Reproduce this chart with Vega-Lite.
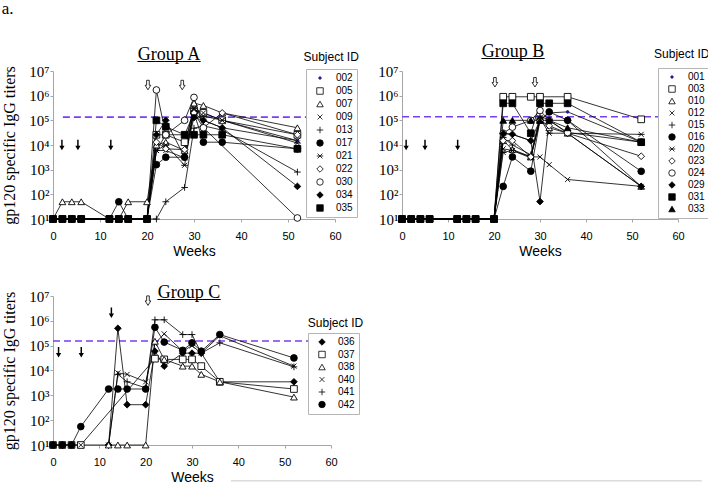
{
"$schema":"https://vega.github.io/schema/vega-lite/v6.json",
"padding":{"left":1,"top":0,"right":0,"bottom":0},
"title":{"text":"a.","anchor":"start","font":"Liberation Serif","fontSize":17,"fontWeight":"normal","offset":25,"frame":"bounds"},
"config":{
 "view":{"stroke":null},
 "axisX":{"labelFont":"Liberation Sans","labelFontSize":11,"titleFont":"Liberation Sans","titleFontSize":14,"titleFontWeight":"normal","tickSize":3,"labelPadding":8,"titlePadding":3,"domainColor":"#a6a6a6","tickColor":"#a6a6a6","grid":false,"labelColor":"black","titleColor":"black","labelFlush":false,"labelOverlap":false},
 "axisY":{"labelFont":"Liberation Serif","labelFontSize":15,"titleFont":"Liberation Serif","titleFontSize":16,"titleFontWeight":"normal","tickSize":3,"labelPadding":1,"titlePadding":11,"domainColor":"#a6a6a6","tickColor":"#a6a6a6","grid":false,"labelColor":"black","titleColor":"black","labelFlush":false,"labelOverlap":false},
 "legend":{"orient":"none","title":null,"strokeColor":"#b5b5b5","fillColor":"white","padding":4,"labelFont":"Liberation Sans","labelFontSize":10,"labelColor":"black","labelOffset":11,"symbolOffset":5,"symbolSize":42,"symbolStrokeWidth":0.8,"symbolOpacity":1}
},
"datasets":{
"arr":[
{"g":"A","w":1.9,"v":10000,"t":"solid"},{"g":"A","w":5.3,"v":10000,"t":"solid"},{"g":"A","w":12.3,"v":10000,"t":"solid"},{"g":"A","w":20.2,"v":2700000,"t":"open"},{"g":"A","w":27.5,"v":2700000,"t":"open"},
{"g":"B","w":0.9,"v":10000,"t":"solid"},{"g":"B","w":5,"v":10000,"t":"solid"},{"g":"B","w":12.1,"v":10000,"t":"solid"},{"g":"B","w":20.2,"v":3500000,"t":"open"},{"g":"B","w":28.9,"v":3500000,"t":"open"},
{"g":"C","w":1.2,"v":54000,"t":"solid"},{"g":"C","w":6.1,"v":54000,"t":"solid"},{"g":"C","w":12.6,"v":2100000,"t":"solid"},{"g":"C","w":20.5,"v":6500000,"t":"open"}
],
"s":[
{"g":"A","s":"002","w":0,"v":10},{"g":"A","s":"002","w":2,"v":10},{"g":"A","s":"002","w":4,"v":10},{"g":"A","s":"002","w":6,"v":10},{"g":"A","s":"002","w":12,"v":10},{"g":"A","s":"002","w":14,"v":10},{"g":"A","s":"002","w":16,"v":10},{"g":"A","s":"002","w":20,"v":10},{"g":"A","s":"002","w":22,"v":6000},{"g":"A","s":"002","w":24,"v":26000},{"g":"A","s":"002","w":28,"v":26000},{"g":"A","s":"002","w":30,"v":200000},{"g":"A","s":"002","w":32,"v":100000},{"g":"A","s":"002","w":36,"v":50000},{"g":"A","s":"002","w":52,"v":15000},
{"g":"A","s":"005","w":0,"v":10},{"g":"A","s":"005","w":2,"v":10},{"g":"A","s":"005","w":4,"v":10},{"g":"A","s":"005","w":6,"v":10},{"g":"A","s":"005","w":12,"v":10},{"g":"A","s":"005","w":14,"v":10},{"g":"A","s":"005","w":16,"v":10},{"g":"A","s":"005","w":20,"v":10},{"g":"A","s":"005","w":22,"v":26000},{"g":"A","s":"005","w":24,"v":26000},{"g":"A","s":"005","w":28,"v":13000},{"g":"A","s":"005","w":30,"v":250000},{"g":"A","s":"005","w":32,"v":200000},{"g":"A","s":"005","w":36,"v":100000},{"g":"A","s":"005","w":52,"v":26000},
{"g":"A","s":"007","w":0,"v":10},{"g":"A","s":"007","w":2,"v":50},{"g":"A","s":"007","w":4,"v":50},{"g":"A","s":"007","w":6,"v":50},{"g":"A","s":"007","w":12,"v":10},{"g":"A","s":"007","w":14,"v":10},{"g":"A","s":"007","w":16,"v":50},{"g":"A","s":"007","w":20,"v":50},{"g":"A","s":"007","w":22,"v":10000},{"g":"A","s":"007","w":24,"v":13000},{"g":"A","s":"007","w":28,"v":6000},{"g":"A","s":"007","w":30,"v":500000},{"g":"A","s":"007","w":32,"v":400000},{"g":"A","s":"007","w":36,"v":200000},{"g":"A","s":"007","w":52,"v":50000},
{"g":"A","s":"009","w":0,"v":10},{"g":"A","s":"009","w":2,"v":10},{"g":"A","s":"009","w":4,"v":10},{"g":"A","s":"009","w":6,"v":10},{"g":"A","s":"009","w":12,"v":10},{"g":"A","s":"009","w":14,"v":10},{"g":"A","s":"009","w":16,"v":10},{"g":"A","s":"009","w":20,"v":10},{"g":"A","s":"009","w":22,"v":6000},{"g":"A","s":"009","w":24,"v":6000},{"g":"A","s":"009","w":28,"v":3000},{"g":"A","s":"009","w":30,"v":300000},{"g":"A","s":"009","w":32,"v":200000},{"g":"A","s":"009","w":36,"v":100000},{"g":"A","s":"009","w":52,"v":15000},
{"g":"A","s":"013","w":0,"v":10},{"g":"A","s":"013","w":2,"v":10},{"g":"A","s":"013","w":4,"v":10},{"g":"A","s":"013","w":6,"v":10},{"g":"A","s":"013","w":12,"v":10},{"g":"A","s":"013","w":14,"v":10},{"g":"A","s":"013","w":16,"v":10},{"g":"A","s":"013","w":20,"v":10},{"g":"A","s":"013","w":22,"v":10},{"g":"A","s":"013","w":24,"v":50},{"g":"A","s":"013","w":28,"v":190},{"g":"A","s":"013","w":30,"v":48000},{"g":"A","s":"013","w":32,"v":60000},{"g":"A","s":"013","w":36,"v":40000},{"g":"A","s":"013","w":52,"v":800},
{"g":"A","s":"017","w":0,"v":10},{"g":"A","s":"017","w":2,"v":10},{"g":"A","s":"017","w":4,"v":10},{"g":"A","s":"017","w":6,"v":10},{"g":"A","s":"017","w":12,"v":10},{"g":"A","s":"017","w":14,"v":50},{"g":"A","s":"017","w":16,"v":10},{"g":"A","s":"017","w":20,"v":10},{"g":"A","s":"017","w":22,"v":1600},{"g":"A","s":"017","w":24,"v":3200},{"g":"A","s":"017","w":28,"v":3200},{"g":"A","s":"017","w":30,"v":200000},{"g":"A","s":"017","w":32,"v":13000},{"g":"A","s":"017","w":36,"v":13000},{"g":"A","s":"017","w":52,"v":7000},
{"g":"A","s":"021","w":0,"v":10},{"g":"A","s":"021","w":2,"v":10},{"g":"A","s":"021","w":4,"v":10},{"g":"A","s":"021","w":6,"v":10},{"g":"A","s":"021","w":12,"v":10},{"g":"A","s":"021","w":14,"v":10},{"g":"A","s":"021","w":16,"v":10},{"g":"A","s":"021","w":20,"v":10},{"g":"A","s":"021","w":22,"v":6000},{"g":"A","s":"021","w":24,"v":10000},{"g":"A","s":"021","w":28,"v":1500},{"g":"A","s":"021","w":30,"v":300000},{"g":"A","s":"021","w":32,"v":150000},{"g":"A","s":"021","w":36,"v":100000},{"g":"A","s":"021","w":52,"v":12000},
{"g":"A","s":"022","w":0,"v":10},{"g":"A","s":"022","w":2,"v":10},{"g":"A","s":"022","w":4,"v":10},{"g":"A","s":"022","w":6,"v":10},{"g":"A","s":"022","w":12,"v":10},{"g":"A","s":"022","w":14,"v":10},{"g":"A","s":"022","w":16,"v":10},{"g":"A","s":"022","w":20,"v":10},{"g":"A","s":"022","w":22,"v":13000},{"g":"A","s":"022","w":24,"v":7000},{"g":"A","s":"022","w":28,"v":6500},{"g":"A","s":"022","w":30,"v":200000},{"g":"A","s":"022","w":32,"v":50000},{"g":"A","s":"022","w":36,"v":200000},{"g":"A","s":"022","w":52,"v":26000},
{"g":"A","s":"030","w":0,"v":10},{"g":"A","s":"030","w":2,"v":10},{"g":"A","s":"030","w":4,"v":10},{"g":"A","s":"030","w":6,"v":10},{"g":"A","s":"030","w":12,"v":10},{"g":"A","s":"030","w":14,"v":10},{"g":"A","s":"030","w":16,"v":10},{"g":"A","s":"030","w":20,"v":10},{"g":"A","s":"030","w":22,"v":1700000},{"g":"A","s":"030","w":24,"v":26000},{"g":"A","s":"030","w":28,"v":100000},{"g":"A","s":"030","w":30,"v":850000},{"g":"A","s":"030","w":32,"v":50000},{"g":"A","s":"030","w":52,"v":11},
{"g":"A","s":"034","w":0,"v":10},{"g":"A","s":"034","w":2,"v":10},{"g":"A","s":"034","w":4,"v":10},{"g":"A","s":"034","w":6,"v":10},{"g":"A","s":"034","w":12,"v":10},{"g":"A","s":"034","w":14,"v":10},{"g":"A","s":"034","w":16,"v":10},{"g":"A","s":"034","w":20,"v":10},{"g":"A","s":"034","w":22,"v":26000},{"g":"A","s":"034","w":24,"v":100000},{"g":"A","s":"034","w":28,"v":3200},{"g":"A","s":"034","w":30,"v":130000},{"g":"A","s":"034","w":32,"v":100000},{"g":"A","s":"034","w":36,"v":50000},{"g":"A","s":"034","w":52,"v":210},
{"g":"A","s":"035","w":0,"v":10},{"g":"A","s":"035","w":2,"v":10},{"g":"A","s":"035","w":4,"v":10},{"g":"A","s":"035","w":6,"v":10},{"g":"A","s":"035","w":12,"v":10},{"g":"A","s":"035","w":14,"v":10},{"g":"A","s":"035","w":16,"v":10},{"g":"A","s":"035","w":20,"v":10},{"g":"A","s":"035","w":22,"v":100000},{"g":"A","s":"035","w":24,"v":55000},{"g":"A","s":"035","w":28,"v":26000},{"g":"A","s":"035","w":30,"v":26000},{"g":"A","s":"035","w":32,"v":26000},{"g":"A","s":"035","w":36,"v":26000},{"g":"A","s":"035","w":52,"v":7000},

{"g":"B","s":"001","w":0,"v":10},{"g":"B","s":"001","w":2,"v":10},{"g":"B","s":"001","w":4,"v":10},{"g":"B","s":"001","w":6,"v":10},{"g":"B","s":"001","w":12,"v":10},{"g":"B","s":"001","w":14,"v":10},{"g":"B","s":"001","w":16,"v":10},{"g":"B","s":"001","w":20,"v":10},{"g":"B","s":"001","w":22,"v":30000},{"g":"B","s":"001","w":24,"v":27000},{"g":"B","s":"001","w":28,"v":15000},{"g":"B","s":"001","w":30,"v":100000},{"g":"B","s":"001","w":32,"v":200000},{"g":"B","s":"001","w":36,"v":220000},{"g":"B","s":"001","w":52,"v":13000},
{"g":"B","s":"003","w":0,"v":10},{"g":"B","s":"003","w":2,"v":10},{"g":"B","s":"003","w":4,"v":10},{"g":"B","s":"003","w":6,"v":10},{"g":"B","s":"003","w":12,"v":10},{"g":"B","s":"003","w":14,"v":10},{"g":"B","s":"003","w":16,"v":10},{"g":"B","s":"003","w":20,"v":10},{"g":"B","s":"003","w":22,"v":900000},{"g":"B","s":"003","w":24,"v":900000},{"g":"B","s":"003","w":28,"v":900000},{"g":"B","s":"003","w":30,"v":900000},{"g":"B","s":"003","w":36,"v":900000},{"g":"B","s":"003","w":52,"v":110000},
{"g":"B","s":"010","w":0,"v":10},{"g":"B","s":"010","w":2,"v":10},{"g":"B","s":"010","w":4,"v":10},{"g":"B","s":"010","w":6,"v":10},{"g":"B","s":"010","w":12,"v":10},{"g":"B","s":"010","w":14,"v":10},{"g":"B","s":"010","w":16,"v":10},{"g":"B","s":"010","w":20,"v":10},{"g":"B","s":"010","w":22,"v":15000},{"g":"B","s":"010","w":24,"v":6600},{"g":"B","s":"010","w":28,"v":3300},{"g":"B","s":"010","w":30,"v":100000},{"g":"B","s":"010","w":32,"v":50000},{"g":"B","s":"010","w":36,"v":30000},{"g":"B","s":"010","w":52,"v":210},
{"g":"B","s":"012","w":0,"v":10},{"g":"B","s":"012","w":2,"v":10},{"g":"B","s":"012","w":4,"v":10},{"g":"B","s":"012","w":6,"v":10},{"g":"B","s":"012","w":12,"v":10},{"g":"B","s":"012","w":14,"v":10},{"g":"B","s":"012","w":16,"v":10},{"g":"B","s":"012","w":20,"v":10},{"g":"B","s":"012","w":22,"v":7000},{"g":"B","s":"012","w":24,"v":6000},{"g":"B","s":"012","w":28,"v":3300},{"g":"B","s":"012","w":30,"v":3300},{"g":"B","s":"012","w":32,"v":1600},{"g":"B","s":"012","w":36,"v":400},{"g":"B","s":"012","w":52,"v":210},
{"g":"B","s":"015","w":0,"v":10},{"g":"B","s":"015","w":2,"v":10},{"g":"B","s":"015","w":4,"v":10},{"g":"B","s":"015","w":6,"v":10},{"g":"B","s":"015","w":12,"v":10},{"g":"B","s":"015","w":14,"v":10},{"g":"B","s":"015","w":16,"v":10},{"g":"B","s":"015","w":20,"v":10},{"g":"B","s":"015","w":22,"v":20000},{"g":"B","s":"015","w":24,"v":10000},{"g":"B","s":"015","w":28,"v":4000},{"g":"B","s":"015","w":30,"v":150000},{"g":"B","s":"015","w":32,"v":100000},{"g":"B","s":"015","w":36,"v":30000},{"g":"B","s":"015","w":52,"v":210},
{"g":"B","s":"016","w":0,"v":10},{"g":"B","s":"016","w":2,"v":10},{"g":"B","s":"016","w":4,"v":10},{"g":"B","s":"016","w":6,"v":10},{"g":"B","s":"016","w":12,"v":10},{"g":"B","s":"016","w":14,"v":10},{"g":"B","s":"016","w":16,"v":10},{"g":"B","s":"016","w":20,"v":10},{"g":"B","s":"016","w":22,"v":210},{"g":"B","s":"016","w":24,"v":3300},{"g":"B","s":"016","w":28,"v":870},{"g":"B","s":"016","w":30,"v":100000},{"g":"B","s":"016","w":32,"v":220000},{"g":"B","s":"016","w":36,"v":100000},{"g":"B","s":"016","w":52,"v":860},
{"g":"B","s":"020","w":0,"v":10},{"g":"B","s":"020","w":2,"v":10},{"g":"B","s":"020","w":4,"v":10},{"g":"B","s":"020","w":6,"v":10},{"g":"B","s":"020","w":12,"v":10},{"g":"B","s":"020","w":14,"v":10},{"g":"B","s":"020","w":16,"v":10},{"g":"B","s":"020","w":20,"v":10},{"g":"B","s":"020","w":22,"v":5000},{"g":"B","s":"020","w":24,"v":6000},{"g":"B","s":"020","w":28,"v":3000},{"g":"B","s":"020","w":30,"v":120000},{"g":"B","s":"020","w":32,"v":30000},{"g":"B","s":"020","w":36,"v":30000},{"g":"B","s":"020","w":52,"v":27000},
{"g":"B","s":"023","w":0,"v":10},{"g":"B","s":"023","w":2,"v":10},{"g":"B","s":"023","w":4,"v":10},{"g":"B","s":"023","w":6,"v":10},{"g":"B","s":"023","w":12,"v":10},{"g":"B","s":"023","w":14,"v":10},{"g":"B","s":"023","w":16,"v":10},{"g":"B","s":"023","w":20,"v":10},{"g":"B","s":"023","w":22,"v":15000},{"g":"B","s":"023","w":24,"v":15000},{"g":"B","s":"023","w":28,"v":3300},{"g":"B","s":"023","w":30,"v":100000},{"g":"B","s":"023","w":32,"v":60000},{"g":"B","s":"023","w":36,"v":30000},{"g":"B","s":"023","w":52,"v":3500},
{"g":"B","s":"024","w":0,"v":10},{"g":"B","s":"024","w":2,"v":10},{"g":"B","s":"024","w":4,"v":10},{"g":"B","s":"024","w":6,"v":10},{"g":"B","s":"024","w":12,"v":10},{"g":"B","s":"024","w":14,"v":10},{"g":"B","s":"024","w":16,"v":10},{"g":"B","s":"024","w":20,"v":10},{"g":"B","s":"024","w":22,"v":30000},{"g":"B","s":"024","w":24,"v":53000},{"g":"B","s":"024","w":28,"v":100000},{"g":"B","s":"024","w":30,"v":250000},{"g":"B","s":"024","w":32,"v":100000},{"g":"B","s":"024","w":36,"v":32000},{"g":"B","s":"024","w":52,"v":13000},
{"g":"B","s":"029","w":0,"v":10},{"g":"B","s":"029","w":2,"v":10},{"g":"B","s":"029","w":4,"v":10},{"g":"B","s":"029","w":6,"v":10},{"g":"B","s":"029","w":12,"v":10},{"g":"B","s":"029","w":14,"v":10},{"g":"B","s":"029","w":16,"v":10},{"g":"B","s":"029","w":20,"v":10},{"g":"B","s":"029","w":22,"v":29000},{"g":"B","s":"029","w":24,"v":27000},{"g":"B","s":"029","w":28,"v":15000},{"g":"B","s":"029","w":30,"v":51},{"g":"B","s":"029","w":32,"v":100000},{"g":"B","s":"029","w":36,"v":100000},{"g":"B","s":"029","w":52,"v":210},
{"g":"B","s":"033","w":0,"v":10},{"g":"B","s":"033","w":2,"v":10},{"g":"B","s":"033","w":4,"v":10},{"g":"B","s":"033","w":6,"v":10},{"g":"B","s":"033","w":12,"v":10},{"g":"B","s":"033","w":14,"v":10},{"g":"B","s":"033","w":16,"v":10},{"g":"B","s":"033","w":20,"v":10},{"g":"B","s":"033","w":22,"v":100000},{"g":"B","s":"033","w":24,"v":100000},{"g":"B","s":"033","w":28,"v":100000},{"g":"B","s":"033","w":30,"v":100000},{"g":"B","s":"033","w":32,"v":100000},{"g":"B","s":"033","w":36,"v":50000},{"g":"B","s":"033","w":52,"v":13000},
{"g":"B","s":"031","w":0,"v":10},{"g":"B","s":"031","w":2,"v":10},{"g":"B","s":"031","w":4,"v":10},{"g":"B","s":"031","w":6,"v":10},{"g":"B","s":"031","w":12,"v":10},{"g":"B","s":"031","w":14,"v":10},{"g":"B","s":"031","w":16,"v":10},{"g":"B","s":"031","w":20,"v":10},{"g":"B","s":"031","w":22,"v":490000},{"g":"B","s":"031","w":24,"v":490000},{"g":"B","s":"031","w":28,"v":30000},{"g":"B","s":"031","w":30,"v":490000},{"g":"B","s":"031","w":32,"v":490000},{"g":"B","s":"031","w":36,"v":490000},{"g":"B","s":"031","w":52,"v":13000},

{"g":"C","s":"036","w":12,"v":10},{"g":"C","s":"036","w":14,"v":500000},{"g":"C","s":"036","w":16,"v":420},{"g":"C","s":"036","w":20,"v":420},{"g":"C","s":"036","w":22,"v":60000},{"g":"C","s":"036","w":24,"v":15000},{"g":"C","s":"036","w":28,"v":50000},{"g":"C","s":"036","w":30,"v":50000},{"g":"C","s":"036","w":32,"v":50000},{"g":"C","s":"036","w":36,"v":3500},{"g":"C","s":"036","w":52,"v":3500},
{"g":"C","s":"041","w":12,"v":10},{"g":"C","s":"041","w":14,"v":7000},{"g":"C","s":"041","w":16,"v":3500},{"g":"C","s":"041","w":20,"v":2000},{"g":"C","s":"041","w":22,"v":1100000},{"g":"C","s":"041","w":24,"v":1100000},{"g":"C","s":"041","w":28,"v":280000},{"g":"C","s":"041","w":30,"v":280000},{"g":"C","s":"041","w":32,"v":50000},{"g":"C","s":"041","w":36,"v":130000},{"g":"C","s":"041","w":52,"v":14000},
{"g":"C","s":"037","w":0,"v":10},{"g":"C","s":"037","w":2,"v":10},{"g":"C","s":"037","w":4,"v":10},{"g":"C","s":"037","w":6,"v":10},{"g":"C","s":"037","w":22,"v":30000},{"g":"C","s":"037","w":24,"v":28000},{"g":"C","s":"037","w":28,"v":28000},{"g":"C","s":"037","w":30,"v":28000},{"g":"C","s":"037","w":32,"v":15000},{"g":"C","s":"037","w":36,"v":3500},{"g":"C","s":"037","w":52,"v":1800},
{"g":"C","s":"040","w":0,"v":10},{"g":"C","s":"040","w":2,"v":10},{"g":"C","s":"040","w":4,"v":10},{"g":"C","s":"040","w":6,"v":10},{"g":"C","s":"040","w":12,"v":10},{"g":"C","s":"040","w":14,"v":8000},{"g":"C","s":"040","w":16,"v":7000},{"g":"C","s":"040","w":20,"v":3500},{"g":"C","s":"040","w":22,"v":120000},{"g":"C","s":"040","w":24,"v":300000},{"g":"C","s":"040","w":28,"v":60000},{"g":"C","s":"040","w":30,"v":100000},{"g":"C","s":"040","w":32,"v":50000},{"g":"C","s":"040","w":36,"v":250000},{"g":"C","s":"040","w":52,"v":15000},
{"g":"C","s":"038","w":12,"v":10},{"g":"C","s":"038","w":14,"v":10},{"g":"C","s":"038","w":16,"v":10},{"g":"C","s":"038","w":20,"v":10},{"g":"C","s":"038","w":22,"v":150000},{"g":"C","s":"038","w":24,"v":28000},{"g":"C","s":"038","w":28,"v":15000},{"g":"C","s":"038","w":30,"v":15000},{"g":"C","s":"038","w":32,"v":7000},{"g":"C","s":"038","w":36,"v":3500},{"g":"C","s":"038","w":52,"v":850},
{"g":"C","s":"042","w":0,"v":10},{"g":"C","s":"042","w":2,"v":10},{"g":"C","s":"042","w":4,"v":10},{"g":"C","s":"042","w":6,"v":55},{"g":"C","s":"042","w":12,"v":1800},{"g":"C","s":"042","w":14,"v":1800},{"g":"C","s":"042","w":16,"v":1800},{"g":"C","s":"042","w":20,"v":1800},{"g":"C","s":"042","w":22,"v":550000},{"g":"C","s":"042","w":24,"v":140000},{"g":"C","s":"042","w":28,"v":65000},{"g":"C","s":"042","w":30,"v":130000},{"g":"C","s":"042","w":32,"v":60000},{"g":"C","s":"042","w":36,"v":280000},{"g":"C","s":"042","w":52,"v":32000}
]
},
"columns":2,
"bounds":"flush",
"spacing":{"row":77,"column":67},
"resolve":{"scale":{"x":"independent","y":"independent","shape":"independent","fill":"independent","stroke":"independent"}},
"concat":[
{
 "width":282,"height":148,
 "title":{"text":"Group A","subtitle":"_______","font":"Liberation Serif","fontSize":18,"fontWeight":"normal","subtitleFont":"Liberation Serif","subtitleFontSize":18,"subtitlePadding":-18,"offset":-13,"dx":-25,"anchor":"middle","frame":"group"},
 "layer":[
  {"data":{"values":[{}]},"mark":{"type":"rule","color":"#7a3ff0","strokeWidth":1.6,"strokeDash":[7,4]},
   "encoding":{"x":{"datum":2.1,"type":"quantitative","scale":{"domain":[0,60],"nice":false}},"x2":{"datum":54.3},"y":{"datum":135000,"type":"quantitative","scale":{"type":"log","domain":[10,10000000]}}}},
  {"data":{"name":"s"},"transform":[{"filter":"datum.g=='A'"}],"mark":{"type":"line","stroke":"black","strokeWidth":0.8},
   "encoding":{"x":{"field":"w","type":"quantitative","scale":{"domain":[0,60],"nice":false},"axis":{"values":[0,10,20,30,40,50,60],"title":"Weeks"}},
    "y":{"field":"v","type":"quantitative","scale":{"type":"log","domain":[10,10000000]},"axis":{"values":[10,100,1000,10000,100000,1000000,10000000],"labelExpr":"'10' + ['⁰','¹','²','³','⁴','⁵','⁶','⁷'][round(log(datum.value)/LN10)]","title":"gp120 specific IgG titers"}},
    "detail":{"field":"s"}}},
  {"data":{"name":"s"},"transform":[{"filter":"datum.g=='A'"}],"mark":{"type":"point","strokeWidth":0.9,"opacity":1,"size":45},
   "encoding":{"x":{"field":"w","type":"quantitative"},"y":{"field":"v","type":"quantitative"},
    "shape":{"field":"s","type":"nominal","scale":{"domain":["002","005","007","009","013","017","021","022","030","034","035"],"range":["M-0.4,0A0.4,0.4 0 1,0 0.4,0A0.4,0.4 0 1,0 -0.4,0Z","square","triangle-up","M-0.75,-0.75L0.75,0.75M-0.75,0.75L0.75,-0.75","M-1,0L1,0M0,-1L0,1","circle","M-1,0L1,0M-0.75,-0.75L0.75,0.75M-0.75,0.75L0.75,-0.75","diamond","circle","diamond","square"]},
     "legend":{"legendX":253,"legendY":-2,"rowPadding":3}},
    "fill":{"field":"s","type":"nominal","legend":null,"scale":{"domain":["002","005","007","009","013","017","021","022","030","034","035"],"range":["#1f1f8f","white","white","white","white","black","white","white","white","black","black"]}},
    "stroke":{"field":"s","type":"nominal","legend":null,"scale":{"domain":["002","005","007","009","013","017","021","022","030","034","035"],"range":["#1f1f8f","black","black","black","black","black","black","black","black","black","black"]}}}},
  {"data":{"name":"arr"},"transform":[{"filter":"datum.g=='A' && datum.t=='solid'"}],"mark":{"type":"point","shape":"M-0.14,-1L0.14,-1L0.14,0.15L0.5,0.15L0,1L-0.5,0.15L-0.14,0.15Z","size":110,"filled":true,"color":"black","opacity":1},
   "encoding":{"x":{"field":"w","type":"quantitative"},"y":{"field":"v","type":"quantitative"}}},
  {"data":{"name":"arr"},"transform":[{"filter":"datum.g=='A' && datum.t=='open'"}],"mark":{"type":"point","shape":"M-0.28,-1L0.28,-1L0.28,0.05L0.6,0.05L0,1L-0.6,0.05L-0.28,0.05Z","size":90,"filled":true,"fill":"white","stroke":"black","strokeWidth":0.8,"opacity":1},
   "encoding":{"x":{"field":"w","type":"quantitative"},"y":{"field":"v","type":"quantitative"}}},
  {"data":{"values":[{}]},"mark":{"type":"text","font":"Liberation Sans","fontSize":12,"align":"left","baseline":"middle","color":"black"},
   "encoding":{"x":{"datum":53.3,"type":"quantitative"},"y":{"datum":37000000,"type":"quantitative"},"text":{"value":"Subject ID"}}}
 ]
},
{
 "width":276,"height":148,
 "title":{"text":"Group B","subtitle":"_______","font":"Liberation Serif","fontSize":18,"fontWeight":"normal","subtitleFont":"Liberation Serif","subtitleFontSize":18,"subtitlePadding":-18,"offset":-13,"dx":-27,"anchor":"middle","frame":"group"},
 "layer":[
  {"data":{"values":[{}]},"mark":{"type":"rule","color":"#7a3ff0","strokeWidth":1.6,"strokeDash":[7,4]},
   "encoding":{"x":{"datum":0,"type":"quantitative","scale":{"domain":[0,60],"nice":false}},"x2":{"datum":56.7},"y":{"datum":140000,"type":"quantitative","scale":{"type":"log","domain":[10,10000000]}}}},
  {"data":{"name":"s"},"transform":[{"filter":"datum.g=='B'"}],"mark":{"type":"line","stroke":"black","strokeWidth":0.8},
   "encoding":{"x":{"field":"w","type":"quantitative","scale":{"domain":[0,60],"nice":false},"axis":{"values":[0,10,20,30,40,50,60],"title":"Weeks"}},
    "y":{"field":"v","type":"quantitative","scale":{"type":"log","domain":[10,10000000]},"axis":{"values":[10,100,1000,10000,100000,1000000,10000000],"labelExpr":"'10' + ['⁰','¹','²','³','⁴','⁵','⁶','⁷'][round(log(datum.value)/LN10)]","title":null}},
    "detail":{"field":"s"}}},
  {"data":{"name":"s"},"transform":[{"filter":"datum.g=='B'"}],"mark":{"type":"point","strokeWidth":0.9,"opacity":1,"size":45},
   "encoding":{"x":{"field":"w","type":"quantitative"},"y":{"field":"v","type":"quantitative"},
    "shape":{"field":"s","type":"nominal","scale":{"domain":["001","003","010","012","015","016","020","023","024","029","031","033"],"range":["M-0.4,0A0.4,0.4 0 1,0 0.4,0A0.4,0.4 0 1,0 -0.4,0Z","square","triangle-up","M-0.75,-0.75L0.75,0.75M-0.75,0.75L0.75,-0.75","M-1,0L1,0M0,-1L0,1","circle","M-1,0L1,0M-0.75,-0.75L0.75,0.75M-0.75,0.75L0.75,-0.75","diamond","circle","diamond","square","triangle-up"]},
     "legend":{"legendX":256,"legendY":-3,"rowPadding":2}},
    "fill":{"field":"s","type":"nominal","legend":null,"scale":{"domain":["001","003","010","012","015","016","020","023","024","029","031","033"],"range":["#1f1f8f","white","white","white","white","black","white","white","white","black","black","black"]}},
    "stroke":{"field":"s","type":"nominal","legend":null,"scale":{"domain":["001","003","010","012","015","016","020","023","024","029","031","033"],"range":["#1f1f8f","black","black","black","black","black","black","black","black","black","black","black"]}}}},
  {"data":{"name":"arr"},"transform":[{"filter":"datum.g=='B' && datum.t=='solid'"}],"mark":{"type":"point","shape":"M-0.14,-1L0.14,-1L0.14,0.15L0.5,0.15L0,1L-0.5,0.15L-0.14,0.15Z","size":110,"filled":true,"color":"black","opacity":1},
   "encoding":{"x":{"field":"w","type":"quantitative"},"y":{"field":"v","type":"quantitative"}}},
  {"data":{"name":"arr"},"transform":[{"filter":"datum.g=='B' && datum.t=='open'"}],"mark":{"type":"point","shape":"M-0.28,-1L0.28,-1L0.28,0.05L0.6,0.05L0,1L-0.6,0.05L-0.28,0.05Z","size":90,"filled":true,"fill":"white","stroke":"black","strokeWidth":0.8,"opacity":1},
   "encoding":{"x":{"field":"w","type":"quantitative"},"y":{"field":"v","type":"quantitative"}}},
  {"data":{"values":[{}]},"mark":{"type":"text","font":"Liberation Sans","fontSize":12,"align":"left","baseline":"middle","color":"black"},
   "encoding":{"x":{"datum":54.8,"type":"quantitative"},"y":{"datum":47000000,"type":"quantitative"},"text":{"value":"Subject ID"}}}
 ]
},
{
 "width":278,"height":149,
 "title":{"text":"Group C","subtitle":"_______","font":"Liberation Serif","fontSize":18,"fontWeight":"normal","subtitleFont":"Liberation Serif","subtitleFontSize":18,"subtitlePadding":-18,"offset":-13,"dx":-3,"anchor":"middle","frame":"group"},
 "layer":[
  {"data":{"values":[{}]},"mark":{"type":"rule","color":"#7a3ff0","strokeWidth":1.6,"strokeDash":[7,4]},
   "encoding":{"x":{"datum":0,"type":"quantitative","scale":{"domain":[0,60],"nice":false}},"x2":{"datum":55.4},"y":{"datum":155000,"type":"quantitative","scale":{"type":"log","domain":[10,10000000]}}}},
  {"data":{"name":"s"},"transform":[{"filter":"datum.g=='C'"}],"mark":{"type":"line","stroke":"black","strokeWidth":0.8},
   "encoding":{"x":{"field":"w","type":"quantitative","scale":{"domain":[0,60],"nice":false},"axis":{"values":[0,10,20,30,40,50,60],"title":"Weeks"}},
    "y":{"field":"v","type":"quantitative","scale":{"type":"log","domain":[10,10000000]},"axis":{"values":[10,100,1000,10000,100000,1000000,10000000],"labelExpr":"'10' + ['⁰','¹','²','³','⁴','⁵','⁶','⁷'][round(log(datum.value)/LN10)]","title":"gp120 specific IgG titers"}},
    "detail":{"field":"s"}}},
  {"data":{"name":"s"},"transform":[{"filter":"datum.g=='C'"}],"mark":{"type":"point","strokeWidth":0.9,"opacity":1,"size":45},
   "encoding":{"x":{"field":"w","type":"quantitative"},"y":{"field":"v","type":"quantitative"},
    "shape":{"field":"s","type":"nominal","scale":{"domain":["036","037","038","040","041","042"],"range":["diamond","square","triangle-up","M-0.75,-0.75L0.75,0.75M-0.75,0.75L0.75,-0.75","M-1,0L1,0M0,-1L0,1","circle"]},
     "legend":{"legendX":255,"legendY":37,"rowPadding":2.5}},
    "fill":{"field":"s","type":"nominal","legend":null,"scale":{"domain":["036","037","038","040","041","042"],"range":["black","white","white","white","white","black"]}},
    "stroke":{"field":"s","type":"nominal","legend":null,"scale":{"domain":["036","037","038","040","041","042"],"range":["black","black","black","black","black","black"]}}}},
  {"data":{"name":"arr"},"transform":[{"filter":"datum.g=='C' && datum.t=='solid'"}],"mark":{"type":"point","shape":"M-0.14,-1L0.14,-1L0.14,0.15L0.5,0.15L0,1L-0.5,0.15L-0.14,0.15Z","size":110,"filled":true,"color":"black","opacity":1},
   "encoding":{"x":{"field":"w","type":"quantitative"},"y":{"field":"v","type":"quantitative"}}},
  {"data":{"name":"arr"},"transform":[{"filter":"datum.g=='C' && datum.t=='open'"}],"mark":{"type":"point","shape":"M-0.28,-1L0.28,-1L0.28,0.05L0.6,0.05L0,1L-0.6,0.05L-0.28,0.05Z","size":90,"filled":true,"fill":"white","stroke":"black","strokeWidth":0.8,"opacity":1},
   "encoding":{"x":{"field":"w","type":"quantitative"},"y":{"field":"v","type":"quantitative"}}},
  {"data":{"values":[{}]},"mark":{"type":"text","font":"Liberation Sans","fontSize":12,"align":"left","baseline":"middle","color":"black"},
   "encoding":{"x":{"datum":55,"type":"quantitative"},"y":{"datum":810000,"type":"quantitative"},"text":{"value":"Subject ID"}}},
  {"data":{"values":[{}]},"mark":{"type":"rule","color":"#c8c8c8","strokeWidth":1},
   "encoding":{"x":{"datum":38.4,"type":"quantitative"},"x2":{"datum":140},"y":{"datum":0.36,"type":"quantitative"}}}
 ]
}
]
}
